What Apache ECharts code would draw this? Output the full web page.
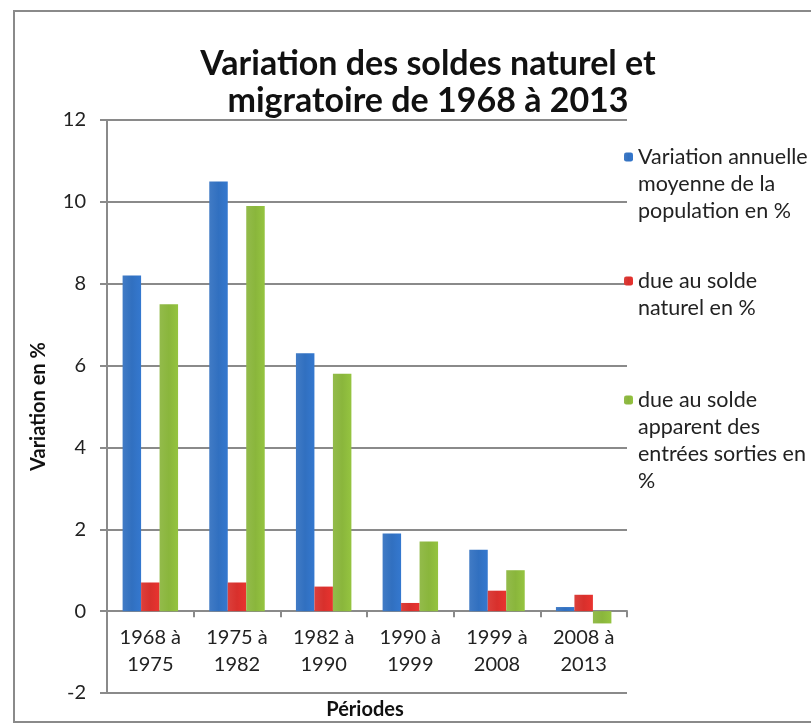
<!DOCTYPE html>
<html>
<head>
<meta charset="utf-8">
<script src="https://cdn.jsdelivr.net/npm/echarts@6/dist/echarts.min.js"></script>
<style>
  html, body { margin: 0; padding: 0; background: #fff; }
  #chart { width: 811px; height: 724px; }
</style>
</head>
<body>
<div id="chart"></div>
<script>
// données
let periodes = ["1968 à\n1975", "1975 à\n1982", "1982 à\n1990", "1990 à\n1999", "1999 à\n2008", "2008 à\n2013"];
let variationTotale = [8.2, 10.5, 6.3, 1.9, 1.5, 0.1];
let soldeNaturel = [0.7, 0.7, 0.6, 0.2, 0.5, 0.4];
let soldeMigratoire = [7.5, 9.9, 5.8, 1.7, 1.0, -0.3];
let nomsSeries = [
  "Variation annuelle\nmoyenne de la\npopulation en %",
  "due au solde\nnaturel en %",
  "due au solde\napparent des\nentrées sorties en\n%",
];
let yTicks = { min: -2, max: 12, interval: 2 };

let chartDom = document.getElementById("chart");
let myChart = echarts.init(chartDom);
let font = "Lato";
let gris = "#8a8a8a";
let colors = ["#3170c0", "#d8302c", "#8ab63c"];

// légende : l'icône est alignée sur la première ligne (lignes vides ajoutées devant)
function legendPad(name) {
  let n = name.split("\n").length;
  return "\n".repeat(n - 1) + name;
}
let lh = 27;
let legendL1 = [157, 281, 400];
let legends = nomsSeries.map(function (name, i) {
  let n = name.split("\n").length;
  return {
    data: [name],
    orient: "vertical",
    left: 624,
    top: legendL1[i] - ((2 * n - 1) * lh) / 2,
    padding: 0,
    itemWidth: 9,
    itemHeight: 9,
    selectedMode: false,
    formatter: legendPad,
    textStyle: { fontFamily: font, fontSize: 21.5, lineHeight: lh, color: "#222" },
  };
});

function barColor(c) {
  return {
    type: "linear", x: 0, y: 0, x2: 1, y2: 0,
    colorStops: [
      { offset: 0, color: echarts.color.lift(c, 0.08) },
      { offset: 0.5, color: c },
      { offset: 1, color: echarts.color.lift(c, -0.08) },
    ],
  };
}

let option = {
  backgroundColor: "#fff",
  animation: false,
  title: {
    text: "Variation des soldes naturel et\nmigratoire de 1968 à 2013",
    left: 423,
    top: 41,
    textAlign: "center",
    textStyle: {
      fontFamily: font,
      fontSize: 34,
      fontWeight: "bold",
      lineHeight: 37,
      color: "#111",
    },
  },
  legend: legends,
  grid: { left: 107, top: 120, right: 184, bottom: 31, containLabel: false, outerBoundsMode: "none" },
  xAxis: {
    type: "category",
    data: periodes,
    axisLine: { onZero: true, lineStyle: { color: gris, width: 2 } },
    axisTick: { show: true, alignWithLabel: false, length: 6, lineStyle: { color: gris, width: 2 } },
    // les étiquettes restent en bas de la grille : marge négative pour les remonter sous le zéro
    axisLabel: { fontFamily: font, fontSize: 20, lineHeight: lh, color: "#222", margin: -69 },
  },
  yAxis: {
    type: "value",
    min: yTicks.min,
    max: yTicks.max,
    interval: yTicks.interval,
    name: "Variation en %",
    nameLocation: "middle",
    nameGap: 58,
    nameTextStyle: { fontFamily: font, fontSize: 20, fontWeight: "bold", color: "#111" },
    axisLine: { show: true, lineStyle: { color: gris, width: 2 } },
    axisTick: { show: true, length: 7, lineStyle: { color: gris, width: 2 } },
    axisLabel: { fontFamily: font, fontSize: 20, color: "#222", margin: 21 },
    splitLine: { show: true, lineStyle: { color: gris, width: 2 } },
  },
  series: [
    {
      name: nomsSeries[0],
      type: "bar",
      data: variationTotale,
      barGap: "0%",
      barCategoryGap: "36%",
      itemStyle: { color: barColor(colors[0]) },
    },
    {
      name: nomsSeries[1],
      type: "bar",
      data: soldeNaturel,
      barGap: "0%",
      barCategoryGap: "36%",
      itemStyle: { color: barColor(colors[1]) },
    },
    {
      name: nomsSeries[2],
      type: "bar",
      data: soldeMigratoire,
      barGap: "0%",
      barCategoryGap: "36%",
      itemStyle: { color: barColor(colors[2]) },
    },
  ],
  graphic: [
    {
      type: "rect",
      shape: { x: 14, y: 11, width: 820, height: 711 },
      style: { fill: "none", stroke: gris, lineWidth: 2 },
      silent: true,
    },
    {
      type: "text",
      x: 365,
      y: 710,
      style: {
        text: "Périodes",
        font: "bold 20px Lato",
        fill: "#111",
        align: "center",
        verticalAlign: "middle",
      },
    },
  ],
};

option && myChart.setOption(option);
</script>
</body>
</html>
